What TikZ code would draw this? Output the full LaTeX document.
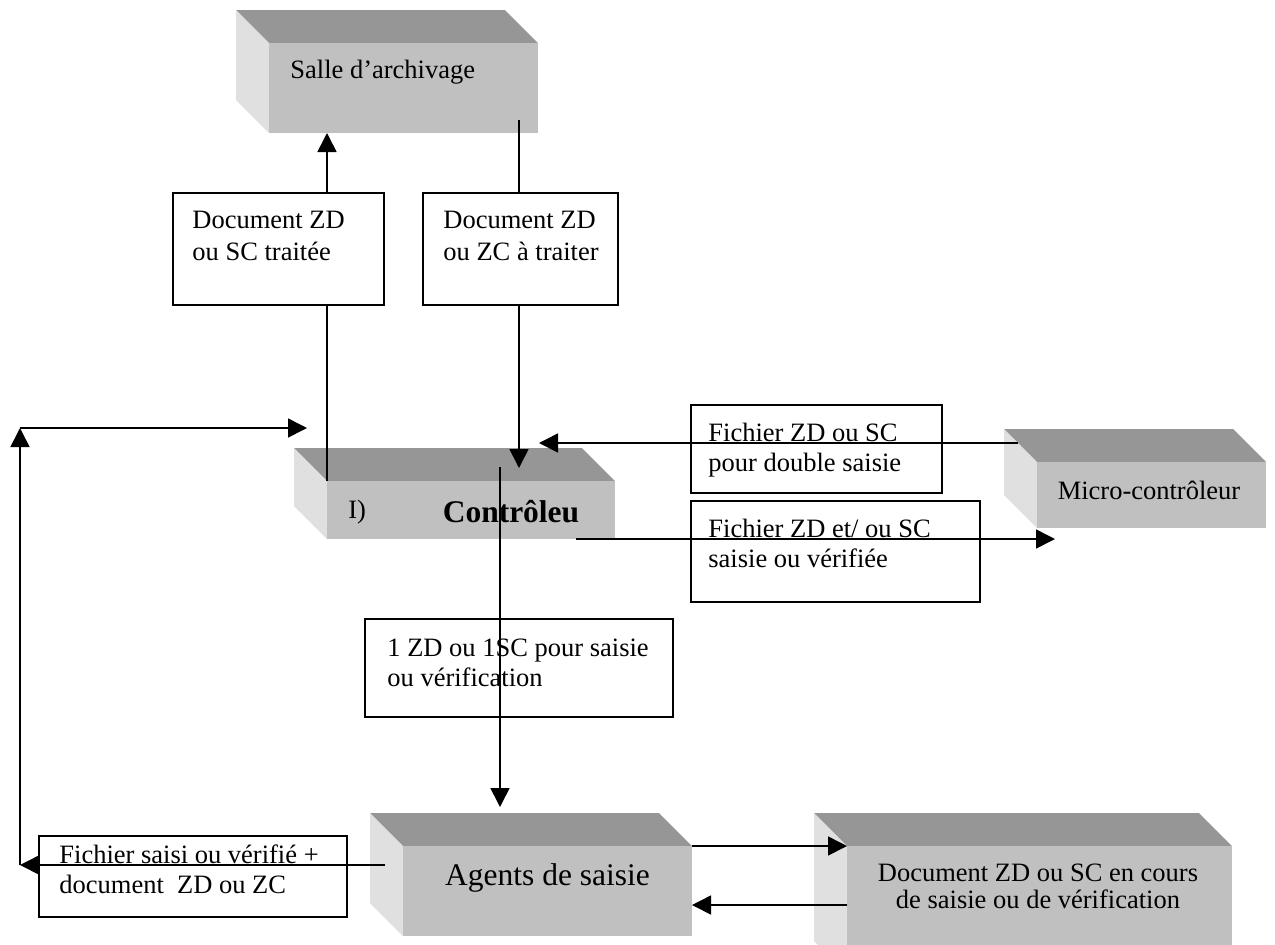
\documentclass[tikz,border=0pt]{standalone}
\usepackage{fontspec}
\setmainfont{Liberation Serif}
\usetikzlibrary{arrows.meta,positioning}

\definecolor{dessus}{HTML}{969696}
\definecolor{face}{HTML}{C0C0C0}
\definecolor{cote}{HTML}{E0E0E0}

\tikzset{
  avant/.style={fill=face,inner sep=0pt,outer sep=0pt},
  lbl/.style={draw,fill=white,line width=0.9pt,inner sep=0pt,outer sep=0pt},
  txt/.style={inner sep=0pt,anchor=north west,align=left,font=\fontsize{13.25}{15}\selectfont},
  fleche/.style={-{Triangle[length=9.5pt,width=9.5pt]},line width=0.8pt}
}

% bloc 3D : nom, x1, y1, x2, y2 (face avant)
\newcommand{\bloc}[5]{%
  \fill[dessus] (#2-33,#3-33) -- (#4-33,#3-33) -- (#4,#3) -- (#2,#3) -- cycle;
  \fill[cote] (#2-33,#3-33) -- (#2,#3) -- (#2,#5) -- (#2-33,#5-33) -- cycle;
  \node[avant,minimum width={(#4-#2)*0.5pt},minimum height={(#5-#3)*0.5pt}] (#1) at ({(#2+#4)/2},{(#3+#5)/2}) {};
}

\begin{document}
\begin{tikzpicture}[x=0.5pt,y=-0.5pt]
\clip (0,0) rectangle (1275,944);

\bloc{salle}{269}{43}{538}{133}
\bloc{ctrl}{327}{481}{615}{539}
\bloc{micro}{1037}{462}{1266}{528}
\bloc{agents}{403}{846}{692}{936}
\bloc{doc}{847}{846}{1232}{974}

\node[inner sep=0pt,anchor=west,font=\fontsize{13.25}{15}\selectfont] (tsalle) at ([shift={(21,-16)}]salle.west) {Salle d’archivage};
\node[inner sep=0pt,anchor=west,font=\fontsize{13.25}{15}\selectfont] (tnum) at ([shift={(21,2)}]ctrl.west) {I)};
\node[inner sep=0pt,font=\fontsize{15.75}{18}\selectfont\bfseries] (tctrl) at ([shift={(40,2)}]ctrl.center) {Contrôleu};
\node[inner sep=0pt,font=\fontsize{13.25}{15}\selectfont] (tmicro) at ([shift={(-2.5,-5)}]micro.center) {Micro-contrôleur};
\node[inner sep=0pt,font=\fontsize{15.75}{18}\selectfont] (tagents) at ([shift={(0,-13)}]agents.center) {Agents de saisie};
\node[inner sep=0pt,align=center,font=\fontsize{13.25}{13.5}\selectfont] (tdoc) at ([shift={(-1.5,-23.5)}]doc.center) {Document ZD ou SC en cours\\de saisie ou de vérification};

% vers et depuis la salle d'archivage
\draw[fleche] (ctrl.north west) -- (ctrl.north west |- salle.south);
\draw[fleche] ([shift={(115.5,-13)}]salle.south) -- ([shift={(115.5,-13)}]salle.south |- ctrl.north);

\node[lbl,minimum width=105.5pt,minimum height=56pt] (L1) at (278.5,249) {};
\node[txt,font=\fontsize{13.25}{16}\selectfont] (T1) at ([shift={(19,18)}]L1.north west) {Document ZD\\ou SC traitée};
\node[lbl,minimum width=97.5pt,minimum height=56pt] (L2) at (520.5,249) {};
\node[txt,font=\fontsize{13.25}{16}\selectfont] (T2) at ([shift={(20,18)}]L2.north west) {Document ZD\\ou ZC à traiter};

\node[lbl,minimum width=125.5pt,minimum height=44pt] (L3) at (816.5,449) {};
\node[txt] (T3) at ([shift={(17,18)}]L3.north west) {Fichier ZD ou SC\\pour double saisie};
\node[lbl,minimum width=144.5pt,minimum height=50.5pt] (L4) at (835.5,551.5) {};
\node[txt] (T4) at ([shift={(17,18)}]L4.north west) {Fichier ZD et/ ou SC\\saisie ou vérifiée};
\node[lbl,minimum width=154pt,minimum height=49pt] (L5) at (519,668) {};
\node[txt] (T5) at ([shift={(22,20)}]L5.north west) {1 ZD ou 1SC pour saisie\\ou vérification};
\node[lbl,minimum width=154pt,minimum height=40.5pt] (L6) at (193,876.5) {};
\node[txt] (T6) at ([shift={(20,8)}]L6.north west) {Fichier saisi ou vérifié +\\document~ ZD ou ZC};

\coordinate (pC) at (539,443);
\coordinate (pD) at (1055,539);
\coordinate (pE) at (500,807);
\coordinate (gauche) at (20,865);
\coordinate (coin) at (20,428);
\coordinate (pG) at (307,428);

\draw[fleche] ([shift={(-19,-19)}]micro.north west) -- (pC);
\draw[fleche] ([shift={(105,0)}]ctrl.south) -- (pD);
\draw[fleche] ([shift={(29,-14)}]ctrl.north) -- (pE);
\draw[fleche] ([shift={(-18,-26)}]agents.west) -- (gauche);
\draw[fleche] (gauche) -- (coin);
\draw[fleche] (coin) -- (pG);
\draw[fleche] (agents.north east) -- (doc.north west);
\draw[fleche] ([shift={(0,-5)}]doc.west) -- ([shift={(0,-5)}]doc.west -| agents.east);
\end{tikzpicture}
\end{document}
